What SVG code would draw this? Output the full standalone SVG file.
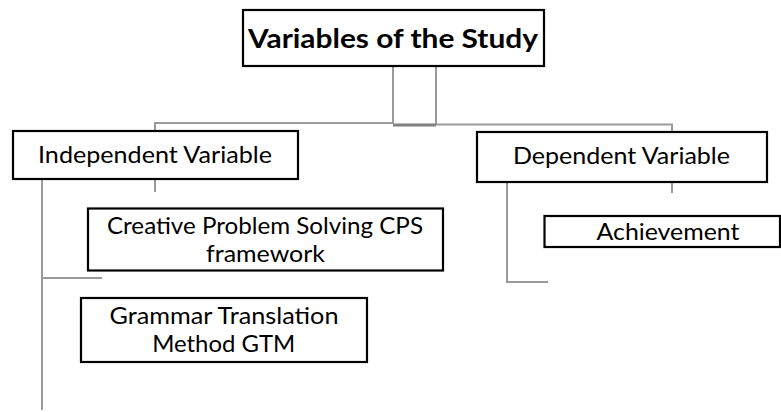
<svg xmlns="http://www.w3.org/2000/svg" width="781" height="412" viewBox="0 0 781 412">
  <style>
    .box { fill: #ffffff; stroke: #000000; stroke-width: 2.2; }
    .lbl { font-family: Lato, "Open Sans", "Liberation Sans", sans-serif; font-size: 23px; fill: #000000; text-anchor: middle; }
    .ttl { font-family: Lato, "Open Sans", "Liberation Sans", sans-serif; font-size: 27px; font-weight: bold; fill: #000000; text-anchor: middle; }
    .conn { fill: none; stroke: #9a9a9a; stroke-width: 2; }
    .conn-dark { fill: none; stroke: #808080; stroke-width: 3; }
  </style>

  <!-- connectors -->
  <g id="connectors">
    <path class="conn" d="M393,67 V124 M436,67 V124"/>
    <path class="conn-dark" d="M393,125 H436"/>
    <path class="conn" d="M393,123 H155 V131"/>
    <path class="conn" d="M436,124.5 H672 V132"/>
    <path class="conn" d="M155,179 V192"/>
    <path class="conn" d="M42,179 V410 M42,278 H102"/>
    <path class="conn" d="M672,182 V193"/>
    <path class="conn" d="M507,182 V282 H548"/>
  </g>

  <g id="node-title">
    <rect class="box" x="243" y="10" width="301" height="56" stroke-width="2.6"/>
    <text class="ttl" x="393" y="48" textLength="290" lengthAdjust="spacingAndGlyphs">Variables of the Study</text>
  </g>

  <g id="node-independent">
    <rect class="box" x="13" y="131" width="285" height="48"/>
    <text class="lbl" x="155" y="163" textLength="234" lengthAdjust="spacingAndGlyphs">Independent Variable</text>
  </g>

  <g id="node-dependent">
    <rect class="box" x="477" y="132" width="290" height="50"/>
    <text class="lbl" x="621.5" y="163.5" textLength="217" lengthAdjust="spacingAndGlyphs">Dependent Variable</text>
  </g>

  <g id="node-cps">
    <rect class="box" x="88" y="208.5" width="355" height="62"/>
    <text class="lbl" x="265" y="233.5" textLength="316" lengthAdjust="spacingAndGlyphs">Creative Problem Solving CPS</text>
    <text class="lbl" x="265.5" y="262" textLength="119" lengthAdjust="spacingAndGlyphs">framework</text>
  </g>

  <g id="node-gtm">
    <rect class="box" x="81" y="298" width="286" height="64"/>
    <text class="lbl" x="224" y="323.5" textLength="229" lengthAdjust="spacingAndGlyphs">Grammar Translation</text>
    <text class="lbl" x="223.7" y="352" textLength="143" lengthAdjust="spacingAndGlyphs">Method GTM</text>
  </g>

  <g id="node-achievement">
    <rect class="box" x="544.5" y="216" width="235.5" height="31"/>
    <text class="lbl" x="668" y="239.5" textLength="143" lengthAdjust="spacingAndGlyphs">Achievement</text>
  </g>
</svg>
